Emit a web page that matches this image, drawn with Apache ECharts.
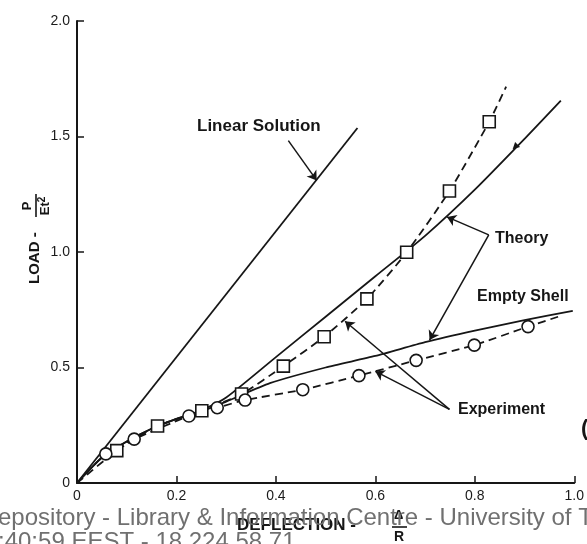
<!DOCTYPE html>
<html><head><meta charset="utf-8">
<script src="https://cdn.jsdelivr.net/npm/echarts@6/dist/echarts.min.js"></script>
<style>html,body{margin:0;padding:0;background:#fff}#c{width:587px;height:544px}</style>
</head><body><div id="c"></div>
<script>
// ---- data ----
const xTickValues = [0, 0.2, 0.4, 0.6, 0.8, 1.0];
const yTickValues = [0, 0.5, 1.0, 1.5, 2.0];

const linearX = [0, 0.564];
const linearY = [0, 1.537];

const theoryUpperX = [0, 0.05, 0.10, 0.15, 0.20, 0.25, 0.30, 0.40, 0.50, 0.60, 0.70, 0.80, 0.90, 0.973];
const theoryUpperY = [0, 0.11, 0.18, 0.235, 0.278, 0.315, 0.37, 0.545, 0.72, 0.895, 1.07, 1.27, 1.49, 1.655];

const theoryLowerX = [0, 0.05, 0.10, 0.15, 0.20, 0.25, 0.30, 0.388, 0.50, 0.60, 0.70, 0.80, 0.90, 0.997];
const theoryLowerY = [0, 0.11, 0.18, 0.235, 0.278, 0.31, 0.352, 0.432, 0.50, 0.55, 0.61, 0.66, 0.705, 0.745];

const squareX = [0.080, 0.162, 0.251, 0.331, 0.415, 0.497, 0.583, 0.663, 0.749, 0.829];
const squareY = [0.140, 0.247, 0.313, 0.385, 0.506, 0.633, 0.797, 0.999, 1.264, 1.564];
const squareLineStart = [0, 0];
const squareLineEnd = [0.863, 1.716];

const circleX = [0.058, 0.115, 0.225, 0.282, 0.338, 0.454, 0.567, 0.682, 0.799, 0.907];
const circleY = [0.126, 0.190, 0.290, 0.326, 0.359, 0.404, 0.465, 0.531, 0.597, 0.677];
const circleLineStart = [0, 0];
const circleLineEnd = [0.975, 0.725];

// annotation arrows: [fromX, fromY, toX, toY]
const arrowLinear = [0.425, 1.482, 0.482, 1.31];
const arrowTheoryA = [0.828, 1.074, 0.744, 1.152];
const arrowTheoryB = [0.828, 1.074, 0.709, 0.619];
const arrowExpA = [0.749, 0.319, 0.600, 0.483];
const arrowExpB = [0.749, 0.319, 0.539, 0.700];
// small direction mark on the upper theory curve
const theoryMark = [0.881, 1.455];

// ---- chart ----
const pairs = (xs, ys) => xs.map((x, i) => [x, ys[i]]);
const font = '"Liberation Sans", Arial, sans-serif';
const ink = '#161616';
const fmt = v => (v === 0 ? '0' : v.toFixed(1));
const arrow = a => [{ coord: [a[0], a[1]] }, { coord: [a[2], a[3]] }];

const chart = echarts.init(document.getElementById('c'));
const option = {
  animation: false,
  backgroundColor: '#ffffff',
  grid: { left: 77, right: 12, top: 21, bottom: 61 },
  xAxis: {
    type: 'value', min: 0, max: 1, interval: 0.2,
    axisLine: { show: true, lineStyle: { color: ink, width: 2 } },
    axisTick: { show: true, inside: true, length: 7, lineStyle: { color: ink, width: 1.5 }, customValues: xTickValues },
    splitLine: { show: false },
    axisLabel: { margin: 6, color: '#1a1a1a', fontSize: 14, fontFamily: font, formatter: fmt, customValues: xTickValues }
  },
  yAxis: {
    type: 'value', min: 0, max: 2, interval: 0.5,
    axisLine: { show: true, lineStyle: { color: ink, width: 2 } },
    axisTick: { show: true, inside: true, length: 7, lineStyle: { color: ink, width: 1.5 }, customValues: yTickValues },
    splitLine: { show: false },
    axisLabel: { margin: 7, color: '#1a1a1a', fontSize: 14, fontFamily: font, formatter: fmt, customValues: yTickValues }
  },
  series: [
    {
      name: 'Linear Solution', type: 'line', data: pairs(linearX, linearY), symbol: 'none',
      lineStyle: { color: ink, width: 1.8 },
      markLine: {
        silent: true, symbol: ['none', 'arrow'], symbolSize: 9,
        label: { show: false },
        lineStyle: { color: ink, width: 1.5, type: 'solid' },
        data: [arrow(arrowLinear), arrow(arrowTheoryA), arrow(arrowTheoryB), arrow(arrowExpA), arrow(arrowExpB)]
      }
    },
    {
      name: 'Theory (upper)', type: 'line', data: pairs(theoryUpperX, theoryUpperY), symbol: 'none', smooth: 0.2, lineStyle: { color: ink, width: 1.8 },
      markPoint: { silent: true, symbol: 'triangle', symbolSize: 7, symbolRotate: 135, itemStyle: { color: ink }, label: { show: false }, data: [{ coord: theoryMark }] }
    },
    { name: 'Theory (empty shell)', type: 'line', data: pairs(theoryLowerX, theoryLowerY), symbol: 'none', smooth: 0.2, lineStyle: { color: ink, width: 1.8 } },
    { name: 'Experiment squares line', type: 'line', data: [squareLineStart].concat(pairs(squareX, squareY), [squareLineEnd]), symbol: 'none', smooth: 0.2, lineStyle: { color: ink, width: 1.8, type: [8, 5] } },
    { name: 'Experiment circles line', type: 'line', data: [circleLineStart].concat(pairs(circleX, circleY), [circleLineEnd]), symbol: 'none', smooth: 0.2, lineStyle: { color: ink, width: 1.8, type: [8, 5] } },
    { name: 'Experiment squares', type: 'scatter', data: pairs(squareX, squareY), symbol: 'rect', symbolSize: 12, itemStyle: { color: '#fff', opacity: 1, borderColor: ink, borderWidth: 1.6 }, z: 5 },
    { name: 'Experiment circles', type: 'scatter', data: pairs(circleX, circleY), symbol: 'circle', symbolSize: 12, itemStyle: { color: '#fff', opacity: 1, borderColor: ink, borderWidth: 1.6 }, z: 5 }
  ],
  graphic: [
    { type: 'text', left: 197, top: 118, style: { text: 'Linear Solution', font: 'bold 17px ' + font, fill: ink } },
    { type: 'text', left: 495, top: 231, style: { text: 'Theory', font: 'bold 16px ' + font, fill: ink } },
    { type: 'text', left: 477, top: 289, style: { text: 'Empty Shell', font: 'bold 16px ' + font, fill: ink } },
    { type: 'text', left: 458, top: 402, style: { text: 'Experiment', font: 'bold 16px ' + font, fill: ink } },
    { type: 'text', left: 581, top: 418, style: { text: '(', font: 'bold 22px ' + font, fill: ink } },
    // x-axis name
    { type: 'text', left: 237, top: 517, style: { text: 'DEFLECTION -', font: 'bold 17px ' + font, fill: ink } },
    { type: 'text', left: 394, top: 509, style: { text: 'Δ', font: 'bold 13px ' + font, fill: ink } },
    { type: 'line', shape: { x1: 392, y1: 527, x2: 407, y2: 527 }, style: { stroke: ink, lineWidth: 1.6 } },
    { type: 'text', left: 394, top: 530, style: { text: 'R', font: 'bold 14px ' + font, fill: ink } },
    // y-axis name (rotated)
    {
      type: 'group', x: 35, y: 254, rotation: Math.PI / 2,
      children: [
        { type: 'text', x: -30, y: 0, style: { text: 'LOAD -', font: 'bold 15px ' + font, fill: ink, verticalAlign: 'middle', align: 'left' } },
        { type: 'text', x: 48, y: -8, style: { text: 'P', font: 'bold 13px ' + font, fill: ink, verticalAlign: 'middle', align: 'center' } },
        { type: 'line', shape: { x1: 37, y1: 1, x2: 60, y2: 1 }, style: { stroke: ink, lineWidth: 1.6 } },
        { type: 'text', x: 48, y: 10, style: { text: '{a|Et}{b|2}', rich: { a: { font: 'bold 13px ' + font, fill: ink }, b: { font: 'bold 10px ' + font, fill: ink, verticalAlign: 'top', padding: [0, 0, 6, 0] } }, verticalAlign: 'middle', align: 'center' } }
      ]
    },
    // watermark
    { type: 'text', left: -2, top: 506, z: 100, style: { text: 'epository - Library & Information Centre - University of T', font: '24px ' + font, fill: '#707070' } },
    { type: 'text', left: -2, top: 530, z: 100, style: { text: ':40:59 EEST - 18.224.58.71', font: '24px ' + font, fill: '#707070' } }
  ]
};
chart.setOption(option);
</script>
</body></html>
